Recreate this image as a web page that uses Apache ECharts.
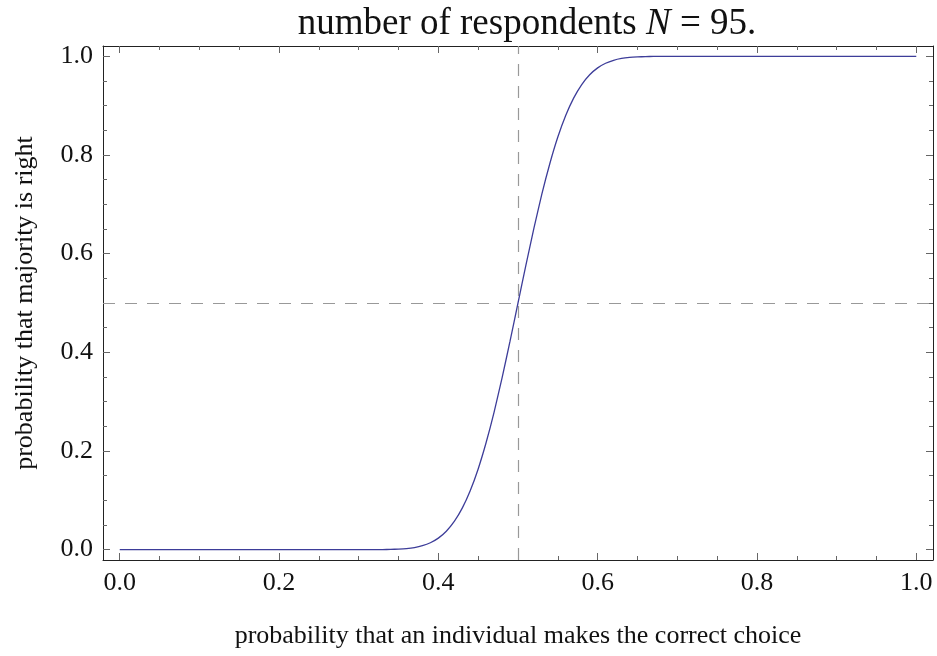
<!DOCTYPE html>
<html>
<head>
<meta charset="utf-8">
<script src="https://cdn.jsdelivr.net/npm/echarts@6/dist/echarts.min.js"></script>
<style>
  html, body { margin: 0; padding: 0; background: #fff; }
  #chart { width: 937px; height: 656px; }
</style>
</head>
<body>
<div id="chart"></div>
<script>
  // probability that an individual is right (x) and that the majority is right (y)
  var pValues = [0, 0.1, 0.2, 0.25, 0.3, 0.31, 0.32, 0.33, 0.34, 0.35, 0.36, 0.37, 0.38, 0.39,
    0.4, 0.41, 0.42, 0.43, 0.44, 0.45, 0.46, 0.47, 0.48, 0.49, 0.5,
    0.51, 0.52, 0.53, 0.54, 0.55, 0.56, 0.57, 0.58, 0.59, 0.6, 0.61, 0.62, 0.63, 0.64,
    0.65, 0.66, 0.67, 0.68, 0.69, 0.7, 0.75, 0.8, 0.9, 1.0];
  var majorityValues = [0, 0, 0, 0, 0.00001, 0.00003, 0.00008, 0.0002, 0.0005, 0.0011, 0.0022, 0.0043, 0.008, 0.014,
    0.0233, 0.0373, 0.0571, 0.0841, 0.1194, 0.1636, 0.2171, 0.2789, 0.3483, 0.4227, 0.5,
    0.5773, 0.6517, 0.7211, 0.7829, 0.8364, 0.8806, 0.9159, 0.9429, 0.9627, 0.9767, 0.986, 0.992, 0.9957, 0.9978,
    0.9989, 0.9995, 0.9998, 0.9999, 1, 1, 1, 1, 1, 1];

  var majorTicks = [0, 0.2, 0.4, 0.6, 0.8, 1.0];
  var minorTicks = [0.05, 0.1, 0.15, 0.25, 0.3, 0.35, 0.45, 0.5, 0.55, 0.65, 0.7, 0.75, 0.85, 0.9, 0.95];
  var respondents = 95;
  var guideX = 0.5, guideY = 0.5;

  var font = 'Liberation Serif';
  var frameColor = '#222';
  var tickColor = '#666';
  var lo = -0.021, hi = 1.021;

  function makeAxis(pos, ticks, len, showLine, showLabel) {
    return {
      type: 'value',
      position: pos,
      min: lo,
      max: hi,
      axisLine: { show: showLine, onZero: false, lineStyle: { color: frameColor, width: 1 } },
      axisTick: { show: true, inside: true, length: len, customValues: ticks,
        lineStyle: { color: tickColor, width: 1 } },
      axisLabel: {
        show: showLabel,
        customValues: ticks,
        margin: 10,
        fontFamily: font,
        fontSize: 26,
        color: '#111',
        formatter: function (v) { return v.toFixed(1); }
      },
      splitLine: { show: false }
    };
  }

  var xAxes = [
    makeAxis('bottom', majorTicks, 7, true, true),
    makeAxis('bottom', minorTicks, 4, false, false),
    makeAxis('top', majorTicks, 7, true, false),
    makeAxis('top', minorTicks, 4, false, false)
  ];
  xAxes[0].name = 'probability that an individual makes the correct choice';
  xAxes[0].nameLocation = 'middle';
  xAxes[0].nameGap = 63;
  xAxes[0].nameTextStyle = { fontFamily: font, fontSize: 26, color: '#111' };

  var yAxes = [
    makeAxis('left', majorTicks, 7, true, true),
    makeAxis('left', minorTicks, 4, false, false),
    makeAxis('right', majorTicks, 7, true, false),
    makeAxis('right', minorTicks, 4, false, false)
  ];
  yAxes[0].name = 'probability that majority is right';
  yAxes[0].nameLocation = 'middle';
  yAxes[0].nameGap = 65;
  yAxes[0].nameTextStyle = { fontFamily: font, fontSize: 26, color: '#111' };

  var chart = echarts.init(document.getElementById('chart'));
  chart.setOption({
    animation: false,
    backgroundColor: '#fff',
    grid: { left: 103, right: 4, top: 46, bottom: 96, containLabel: false },
    graphic: [{
      type: 'text',
      x: 527,
      y: 24,
      style: {
        text: '{a|number of respondents }{i|N}{a| = ' + respondents + '.}',
        align: 'center',
        verticalAlign: 'middle',
        rich: {
          a: { fontFamily: font, fontSize: 37, fill: '#111' },
          i: { fontFamily: font, fontSize: 37, fontStyle: 'italic', fill: '#111' }
        }
      }
    }],
    xAxis: xAxes,
    yAxis: yAxes,
    series: [{
      type: 'line',
      xAxisIndex: 0,
      yAxisIndex: 0,
      data: pValues.map(function (p, i) { return [p, majorityValues[i]]; }),
      showSymbol: false,
      smooth: 0.2,
      lineStyle: { color: '#3d3d99', width: 1.3 },
      z: 3,
      markLine: {
        silent: true,
        symbol: 'none',
        label: { show: false },
        lineStyle: { color: '#999', width: 1.2, type: [12, 10] },
        data: [{ xAxis: guideX }, { yAxis: guideY }]
      }
    }]
  });
</script>
</body>
</html>
